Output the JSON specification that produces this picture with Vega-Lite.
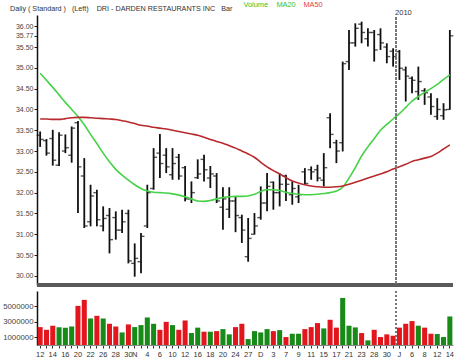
{
  "$schema": "https://vega.github.io/schema/vega-lite/v6.json",
  "background": "white",
  "padding": {"left": 2, "right": 5, "top": 1, "bottom": 2},
  "config": {
    "view": {"stroke": null},
    "font": "Liberation Sans",
    "axis": {"title": null, "grid": false, "labelColor": "#444444"},
    "axisY": {
      "tickSize": 3, "tickColor": "#222222", "domainColor": "#111111", "domainWidth": 1.5,
      "labelFontSize": 7, "labelPadding": 1, "minExtent": 34, "maxExtent": 34
    },
    "axisX": {
      "labelAngle": 0, "tickSize": 3, "tickColor": "#333333", "domainColor": "#888888",
      "labelFontSize": 7.5, "labelColor": "#333333", "labelPadding": 2
    }
  },
  "resolve": {"scale": {"color": "independent"}, "legend": {"color": "independent"}},
  "datasets": {
    "days": [
      {"d":"2009-10-12","o":33.38,"h":33.47,"l":33.10,"c":33.28,"v":2320000,"dir":"down","MA20":34.87,"MA50":33.77},
      {"d":"2009-10-13","o":33.25,"h":33.29,"l":32.89,"c":32.95,"v":1970000,"dir":"down","MA20":34.70,"MA50":33.77},
      {"d":"2009-10-14","o":33.30,"h":33.51,"l":32.65,"c":32.78,"v":2500000,"dir":"down","MA20":34.53,"MA50":33.76},
      {"d":"2009-10-15","o":32.66,"h":33.45,"l":32.64,"c":33.38,"v":2300000,"dir":"up","MA20":34.35,"MA50":33.76},
      {"d":"2009-10-16","o":33.00,"h":33.40,"l":32.95,"c":33.08,"v":2250000,"dir":"up","MA20":34.17,"MA50":33.78},
      {"d":"2009-10-19","o":32.90,"h":33.59,"l":32.72,"c":33.55,"v":2400000,"dir":"up","MA20":34.00,"MA50":33.80},
      {"d":"2009-10-20","o":33.68,"h":33.72,"l":31.51,"c":32.62,"v":5070000,"dir":"down","MA20":33.83,"MA50":33.81},
      {"d":"2009-10-21","o":32.40,"h":32.83,"l":31.15,"c":31.20,"v":5850000,"dir":"down","MA20":33.63,"MA50":33.81},
      {"d":"2009-10-22","o":31.30,"h":32.19,"l":31.19,"c":31.92,"v":3440000,"dir":"up","MA20":33.40,"MA50":33.80},
      {"d":"2009-10-23","o":32.00,"h":32.07,"l":31.19,"c":31.35,"v":3780000,"dir":"down","MA20":33.18,"MA50":33.79},
      {"d":"2009-10-26","o":31.20,"h":31.67,"l":31.07,"c":31.38,"v":3440000,"dir":"up","MA20":32.95,"MA50":33.78},
      {"d":"2009-10-27","o":31.45,"h":31.63,"l":30.54,"c":30.87,"v":2750000,"dir":"down","MA20":32.74,"MA50":33.77},
      {"d":"2009-10-28","o":31.40,"h":31.55,"l":30.87,"c":31.10,"v":2400000,"dir":"down","MA20":32.56,"MA50":33.76},
      {"d":"2009-10-29","o":31.10,"h":31.59,"l":31.03,"c":31.30,"v":1630000,"dir":"up","MA20":32.42,"MA50":33.73},
      {"d":"2009-10-30","o":31.50,"h":31.59,"l":30.30,"c":30.36,"v":2670000,"dir":"down","MA20":32.30,"MA50":33.70},
      {"d":"2009-11-02","o":30.30,"h":30.78,"l":29.98,"c":30.42,"v":2320000,"dir":"up","MA20":32.19,"MA50":33.66},
      {"d":"2009-11-03","o":30.34,"h":31.03,"l":30.06,"c":30.95,"v":2580000,"dir":"up","MA20":32.10,"MA50":33.62},
      {"d":"2009-11-04","o":31.20,"h":32.19,"l":31.15,"c":32.00,"v":3570000,"dir":"up","MA20":32.04,"MA50":33.60},
      {"d":"2009-11-05","o":32.10,"h":33.07,"l":32.07,"c":32.85,"v":2750000,"dir":"up","MA20":32.01,"MA50":33.57},
      {"d":"2009-11-06","o":32.95,"h":33.41,"l":32.35,"c":32.70,"v":1970000,"dir":"down","MA20":32.00,"MA50":33.55},
      {"d":"2009-11-09","o":32.90,"h":33.07,"l":32.47,"c":32.62,"v":3000000,"dir":"down","MA20":31.99,"MA50":33.53},
      {"d":"2009-11-10","o":32.43,"h":33.07,"l":32.31,"c":32.70,"v":2580000,"dir":"up","MA20":31.97,"MA50":33.50},
      {"d":"2009-11-11","o":32.85,"h":32.93,"l":32.31,"c":32.40,"v":1970000,"dir":"down","MA20":31.94,"MA50":33.47},
      {"d":"2009-11-12","o":32.60,"h":32.64,"l":31.79,"c":31.85,"v":3180000,"dir":"down","MA20":31.90,"MA50":33.44},
      {"d":"2009-11-13","o":31.85,"h":32.27,"l":31.75,"c":32.00,"v":1550000,"dir":"up","MA20":31.85,"MA50":33.41},
      {"d":"2009-11-16","o":32.36,"h":32.80,"l":32.33,"c":32.45,"v":2250000,"dir":"up","MA20":31.80,"MA50":33.38},
      {"d":"2009-11-17","o":32.80,"h":32.91,"l":32.27,"c":32.55,"v":1720000,"dir":"down","MA20":31.79,"MA50":33.33},
      {"d":"2009-11-18","o":32.35,"h":32.64,"l":32.11,"c":32.45,"v":1720000,"dir":"up","MA20":31.81,"MA50":33.28},
      {"d":"2009-11-19","o":32.40,"h":32.47,"l":31.75,"c":31.80,"v":1800000,"dir":"down","MA20":31.85,"MA50":33.23},
      {"d":"2009-11-20","o":31.65,"h":32.13,"l":31.11,"c":31.85,"v":2060000,"dir":"up","MA20":31.88,"MA50":33.19},
      {"d":"2009-11-23","o":31.60,"h":32.13,"l":31.39,"c":31.80,"v":1380000,"dir":"up","MA20":31.90,"MA50":33.13},
      {"d":"2009-11-24","o":31.80,"h":31.90,"l":31.05,"c":31.45,"v":2320000,"dir":"down","MA20":31.91,"MA50":33.07},
      {"d":"2009-11-25","o":31.40,"h":31.47,"l":30.79,"c":31.10,"v":2750000,"dir":"down","MA20":31.91,"MA50":33.00},
      {"d":"2009-11-27","o":30.46,"h":31.39,"l":30.34,"c":30.90,"v":770000,"dir":"up","MA20":31.92,"MA50":32.93},
      {"d":"2009-11-30","o":31.00,"h":31.51,"l":30.99,"c":31.20,"v":1800000,"dir":"up","MA20":31.96,"MA50":32.85},
      {"d":"2009-12-01","o":31.40,"h":32.15,"l":31.35,"c":31.75,"v":1630000,"dir":"up","MA20":32.03,"MA50":32.73},
      {"d":"2009-12-02","o":31.75,"h":32.47,"l":31.55,"c":32.15,"v":2060000,"dir":"up","MA20":32.07,"MA50":32.62},
      {"d":"2009-12-03","o":32.25,"h":32.27,"l":31.59,"c":32.00,"v":1800000,"dir":"down","MA20":32.07,"MA50":32.53},
      {"d":"2009-12-04","o":32.00,"h":32.47,"l":31.67,"c":32.20,"v":1930000,"dir":"up","MA20":32.05,"MA50":32.45},
      {"d":"2009-12-07","o":32.40,"h":32.43,"l":31.80,"c":32.20,"v":1030000,"dir":"down","MA20":32.01,"MA50":32.36},
      {"d":"2009-12-08","o":31.95,"h":32.27,"l":31.71,"c":32.10,"v":1460000,"dir":"up","MA20":31.98,"MA50":32.28},
      {"d":"2009-12-09","o":31.90,"h":32.19,"l":31.75,"c":31.95,"v":1460000,"dir":"up","MA20":31.96,"MA50":32.23},
      {"d":"2009-12-10","o":32.50,"h":32.59,"l":32.19,"c":32.22,"v":2060000,"dir":"down","MA20":31.95,"MA50":32.19},
      {"d":"2009-12-11","o":32.55,"h":32.63,"l":32.31,"c":32.50,"v":2320000,"dir":"down","MA20":31.95,"MA50":32.16},
      {"d":"2009-12-14","o":32.55,"h":32.67,"l":32.27,"c":32.35,"v":2840000,"dir":"down","MA20":31.96,"MA50":32.14},
      {"d":"2009-12-15","o":32.30,"h":32.95,"l":32.15,"c":32.60,"v":2150000,"dir":"up","MA20":31.98,"MA50":32.13},
      {"d":"2009-12-16","o":33.80,"h":33.91,"l":33.07,"c":33.40,"v":3270000,"dir":"down","MA20":32.00,"MA50":32.13},
      {"d":"2009-12-17","o":33.20,"h":33.27,"l":32.71,"c":33.00,"v":2250000,"dir":"down","MA20":32.04,"MA50":32.14},
      {"d":"2009-12-18","o":33.20,"h":35.15,"l":32.99,"c":35.10,"v":6100000,"dir":"up","MA20":32.13,"MA50":32.16},
      {"d":"2009-12-21","o":35.15,"h":35.91,"l":34.95,"c":35.60,"v":2500000,"dir":"up","MA20":32.35,"MA50":32.20},
      {"d":"2009-12-22","o":35.60,"h":36.07,"l":35.51,"c":35.95,"v":2280000,"dir":"up","MA20":32.60,"MA50":32.25},
      {"d":"2009-12-23","o":36.05,"h":36.11,"l":35.59,"c":35.85,"v":1550000,"dir":"down","MA20":32.88,"MA50":32.30},
      {"d":"2009-12-24","o":35.70,"h":35.95,"l":35.51,"c":35.85,"v":600000,"dir":"up","MA20":33.10,"MA50":32.35},
      {"d":"2009-12-28","o":35.85,"h":35.91,"l":35.15,"c":35.43,"v":1970000,"dir":"down","MA20":33.30,"MA50":32.40},
      {"d":"2009-12-29","o":35.80,"h":35.95,"l":35.43,"c":35.60,"v":1030000,"dir":"down","MA20":33.50,"MA50":32.45},
      {"d":"2009-12-30","o":35.50,"h":35.59,"l":35.11,"c":35.27,"v":1380000,"dir":"down","MA20":33.64,"MA50":32.50},
      {"d":"2009-12-31","o":35.40,"h":35.47,"l":35.03,"c":35.27,"v":1200000,"dir":"down","MA20":33.77,"MA50":32.57},
      {"d":"2010-01-04","o":35.39,"h":35.43,"l":34.71,"c":34.99,"v":2250000,"dir":"down","MA20":33.90,"MA50":32.62},
      {"d":"2010-01-05","o":34.95,"h":35.03,"l":34.19,"c":34.80,"v":2750000,"dir":"down","MA20":34.05,"MA50":32.68},
      {"d":"2010-01-06","o":34.75,"h":34.79,"l":34.39,"c":34.70,"v":3100000,"dir":"down","MA20":34.20,"MA50":32.75},
      {"d":"2010-01-07","o":34.43,"h":35.03,"l":34.23,"c":34.67,"v":2500000,"dir":"up","MA20":34.31,"MA50":32.79},
      {"d":"2010-01-08","o":34.45,"h":34.51,"l":34.11,"c":34.40,"v":2250000,"dir":"down","MA20":34.41,"MA50":32.83},
      {"d":"2010-01-11","o":34.30,"h":34.39,"l":33.87,"c":34.07,"v":1460000,"dir":"down","MA20":34.50,"MA50":32.87},
      {"d":"2010-01-12","o":33.83,"h":34.27,"l":33.75,"c":34.00,"v":1420000,"dir":"up","MA20":34.60,"MA50":32.95},
      {"d":"2010-01-13","o":33.85,"h":34.15,"l":33.75,"c":33.99,"v":1030000,"dir":"up","MA20":34.72,"MA50":33.05},
      {"d":"2010-01-14","o":34.00,"h":35.91,"l":33.99,"c":35.77,"v":3700000,"dir":"up","MA20":34.83,"MA50":33.15}
    ]
  },
  "vconcat": [
    {
      "width": 416,
      "height": 270,
      "data": {"name": "days"},
      "layer": [
        {
          "mark": {"type": "rule", "color": "#111111", "strokeWidth": 1.8},
          "encoding": {
            "x": {
              "field": "d", "type": "ordinal",
              "scale": {"paddingInner": 0, "paddingOuter": 0},
              "axis": {"labels": false, "ticks": false, "domain": false}
            },
            "y": {
              "field": "l", "type": "quantitative",
              "scale": {"domain": [29.78, 36.27], "nice": false, "zero": false},
              "axis": {"values": [30, 30.5, 31, 31.5, 32, 32.5, 33, 33.5, 34, 34.5, 35, 35.5, 35.77, 36], "format": ".2f", "labelOverlap": false}
            },
            "y2": {"field": "h"}
          }
        },
        {
          "mark": {"type": "tick", "color": "#111111", "thickness": 1.4, "size": 3, "xOffset": -2, "orient": "horizontal"},
          "encoding": {
            "x": {"field": "d", "type": "ordinal", "axis": {"labels": false, "ticks": false, "domain": false}},
            "y": {"field": "o", "type": "quantitative", "axis": {"values": [30, 30.5, 31, 31.5, 32, 32.5, 33, 33.5, 34, 34.5, 35, 35.5, 35.77, 36], "format": ".2f", "labelOverlap": false}}
          }
        },
        {
          "mark": {"type": "tick", "color": "#111111", "thickness": 1.4, "size": 3, "xOffset": 2, "orient": "horizontal"},
          "encoding": {
            "x": {"field": "d", "type": "ordinal", "axis": {"labels": false, "ticks": false, "domain": false}},
            "y": {"field": "c", "type": "quantitative", "axis": {"values": [30, 30.5, 31, 31.5, 32, 32.5, 33, 33.5, 34, 34.5, 35, 35.5, 35.77, 36], "format": ".2f", "labelOverlap": false}}
          }
        },
        {
          "transform": [{"fold": ["MA20", "MA50"], "as": ["series", "val"]}],
          "mark": {"type": "line", "strokeWidth": 1.6, "interpolate": "monotone"},
          "encoding": {
            "x": {"field": "d", "type": "ordinal", "axis": {"labels": false, "ticks": false, "domain": false}},
            "y": {"field": "val", "type": "quantitative", "axis": {"values": [30, 30.5, 31, 31.5, 32, 32.5, 33, 33.5, 34, 34.5, 35, 35.5, 35.77, 36], "format": ".2f", "labelOverlap": false}},
            "color": {
              "field": "series", "type": "nominal",
              "scale": {"domain": ["Volume", "MA20", "MA50"], "range": ["#2fc42f", "#46d246", "#b8292d"]},
              "legend": {
                "orient": "none", "legendX": -27, "legendY": -14, "direction": "horizontal",
                "title": "Daily ( Standard )\u00a0\u00a0\u00a0(Left)\u00a0\u00a0\u00a0\u00a0DRI - DARDEN RESTAURANTS INC\u00a0\u00a0\u00a0Bar",
                "titleOrient": "left", "titleFontWeight": "normal", "titleFontSize": 7.2,
                "titleColor": "#333333", "titleFont": "Liberation Sans", "titlePadding": 3,
                "titleLimit": 400, "titleBaseline": "top",
                "symbolSize": 0, "symbolOpacity": 0, "symbolStrokeWidth": 0,
                "labelOffset": 0, "columnPadding": -2, "labelFontSize": 7.4, "labelFont": "Liberation Sans",
                "encode": {"labels": {"update": {"fill": {"signal": "datum.value === 'MA50' ? '#e8383c' : '#2fc42f'"}}}}
              }
            }
          }
        },
        {
          "mark": {"type": "rule", "color": "#5a5a5a", "strokeWidth": 3},
          "encoding": {"y": {"datum": 29.78, "type": "quantitative", "axis": {"values": [30, 30.5, 31, 31.5, 32, 32.5, 33, 33.5, 34, 34.5, 35, 35.5, 35.77, 36], "format": ".2f", "labelOverlap": false}}}
        },
        {
          "mark": {"type": "rule", "color": "#777777", "strokeWidth": 1, "strokeDash": [2, 2]},
          "encoding": {
            "x": {"datum": "2010-01-04", "type": "ordinal", "bandPosition": 0, "axis": {"labels": false, "ticks": false, "domain": false}},
            "y": {"datum": 36.2, "type": "quantitative", "axis": {"values": [30, 30.5, 31, 31.5, 32, 32.5, 33, 33.5, 34, 34.5, 35, 35.5, 35.77, 36], "format": ".2f", "labelOverlap": false}},
            "y2": {"datum": 29.78}
          }
        },
        {
          "data": {"values": [{"year": "2010", "d": "2010-01-04", "top": 36.27}]},
          "mark": {"type": "text", "fontSize": 7.5, "color": "#333333", "baseline": "bottom", "dy": 2, "dx": 4},
          "encoding": {
            "x": {"field": "d", "type": "ordinal", "axis": {"labels": false, "ticks": false, "domain": false}},
            "y": {"field": "top", "type": "quantitative", "axis": {"values": [30, 30.5, 31, 31.5, 32, 32.5, 33, 33.5, 34, 34.5, 35, 35.5, 35.77, 36], "format": ".2f", "labelOverlap": false}},
            "text": {"field": "year"}
          }
        }
      ]
    },
    {
      "width": 416,
      "height": 54,
      "data": {"name": "days"},
      "layer": [
        {
          "mark": {"type": "bar", "width": {"band": 0.8}},
          "encoding": {
            "x": {
              "field": "d", "type": "ordinal",
              "scale": {"paddingInner": 0, "paddingOuter": 0},
              "axis": {
                "labelOverlap": false,
                "labelExpr": "datum.value == '2009-11-02' ? 'N' : datum.value == '2009-12-01' ? 'D' : datum.value == '2010-01-04' ? 'J' : indexof(['2009-10-12','2009-10-14','2009-10-16','2009-10-20','2009-10-22','2009-10-26','2009-10-28','2009-10-30','2009-11-04','2009-11-06','2009-11-10','2009-11-12','2009-11-16','2009-11-18','2009-11-20','2009-11-24','2009-11-27','2009-12-03','2009-12-07','2009-12-09','2009-12-11','2009-12-15','2009-12-17','2009-12-21','2009-12-23','2009-12-28','2009-12-30','2010-01-06','2010-01-08','2010-01-12','2010-01-14'], datum.value) >= 0 ? '' + toNumber(substring(datum.value, 8, 10)) : ''"
              }
            },
            "y": {
              "field": "v", "type": "quantitative",
              "scale": {"domain": [0, 7000000], "nice": false},
              "axis": {"values": [1000000, 3000000, 5000000], "format": "d", "labelFontSize": 7.8, "labelOverlap": false}
            },
            "color": {
              "field": "dir", "type": "nominal",
              "scale": {"domain": ["up", "down"], "range": ["#188a18", "#e3161e"]},
              "legend": null
            }
          }
        },
        {
          "mark": {"type": "rule", "color": "#777777", "strokeWidth": 1, "strokeDash": [2, 2]},
          "encoding": {"x": {"datum": "2010-01-04", "type": "ordinal", "bandPosition": 0}}
        }
      ]
    }
  ],
  "spacing": 3
}
